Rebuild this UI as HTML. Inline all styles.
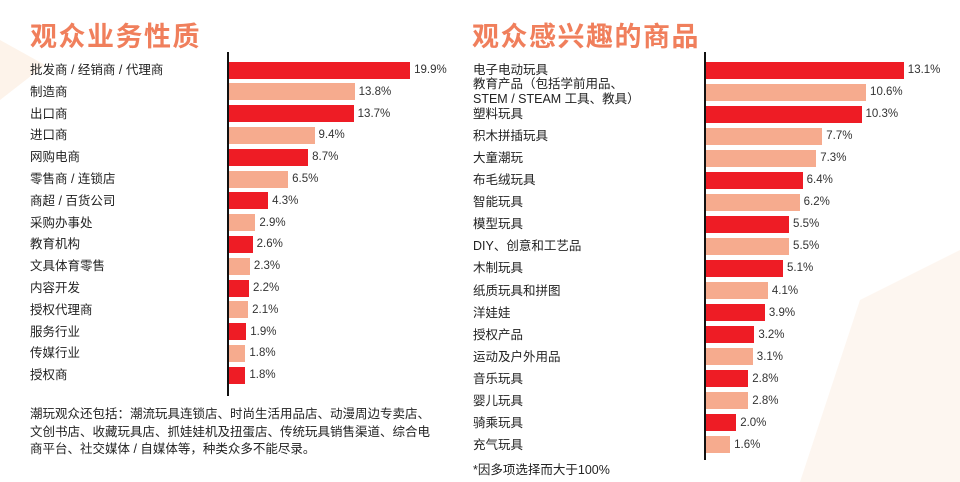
<!DOCTYPE html>
<html><head><meta charset="utf-8"><style>
body{margin:0;width:960px;height:482px;background:#fff;position:relative;overflow:hidden;font-family:"Liberation Sans","Noto Sans CJK SC",sans-serif;color:#222}
.t{position:absolute;font-size:27px;font-weight:bold;color:#f07f5c;top:15px;letter-spacing:1.5px}
.l{position:absolute;font-size:12.5px;white-space:nowrap;line-height:14px}
.b{position:absolute;height:17px}
.r{background:#ee1c25}.p{background:#f6ab8e}
.v{position:absolute;font-size:11.5px;color:#333;line-height:14px}
.ax{position:absolute;width:2px;background:#111}
</style></head><body>
<svg style="position:absolute;left:0;top:0" width="960" height="482">
<polygon points="0,40 45,65 0,100" fill="#fdf3ea"/>
<polygon points="860,300 960,250 960,482 800,482" fill="#fdf6f0"/>
</svg>
<div class="t" style="left:30px">观众业务性质</div>
<div class="t" style="left:472px">观众感兴趣的商品</div>
<div class="ax" style="left:227px;top:52px;height:344px"></div>
<div class="ax" style="left:704px;top:52px;height:408px"></div>
<div id="L"></div><div id="R"></div>
<div class="l" style="left:30px;top:406px;line-height:17.5px">潮玩观众还包括：潮流玩具连锁店、时尚生活用品店、动漫周边专卖店、<br>文创书店、收藏玩具店、抓娃娃机及扭蛋店、传统玩具销售渠道、综合电<br>商平台、社交媒体 / 自媒体等，种类众多不能尽录。</div>
<div class="l" style="left:473px;top:463px">*因多项选择而大于100%</div>
<script>
var L=[["批发商 / 经销商 / 代理商",19.9,1],["制造商",13.8,0],["出口商",13.7,1],["进口商",9.4,0],["网购电商",8.7,1],["零售商 / 连锁店",6.5,0],["商超 / 百货公司",4.3,1],["采购办事处",2.9,0],["教育机构",2.6,1],["文具体育零售",2.3,0],["内容开发",2.2,1],["授权代理商",2.1,0],["服务行业",1.9,1],["传媒行业",1.8,0],["授权商",1.8,1]];
var R=[["电子电动玩具",13.1,1],["教育产品（包括学前用品、<br>STEM / STEAM 工具、教具）",10.6,0],["塑料玩具",10.3,1],["积木拼插玩具",7.7,0],["大童潮玩",7.3,0],["布毛绒玩具",6.4,1],["智能玩具",6.2,0],["模型玩具",5.5,1],["DIY、创意和工艺品",5.5,0],["木制玩具",5.1,1],["纸质玩具和拼图",4.1,0],["洋娃娃",3.9,1],["授权产品",3.2,1],["运动及户外用品",3.1,0],["音乐玩具",2.8,1],["婴儿玩具",2.8,0],["骑乘玩具",2.0,1],["充气玩具",1.6,0]];
function draw(d,lx,ax,y0,dy,sc){var h="";d.forEach(function(e,i){var c=y0+i*dy,w=e[1]*sc;
var two=e[0].indexOf("<br>")>0;var ly=two?c-15:c-7;
h+='<div class="l" style="left:'+lx+'px;top:'+ly+'px'+(two?';line-height:14.5px':'')+'">'+e[0]+'</div>';
h+='<div class="b '+(e[2]?'r':'p')+'" style="left:'+ax+'px;top:'+(c-8.5)+'px;width:'+w+'px"></div>';
h+='<div class="v" style="left:'+(ax+w+4)+'px;top:'+(c-7)+'px">'+e[1].toFixed(1)+'%</div>';});return h;}
document.getElementById("L").innerHTML=draw(L,30,229,70,21.8,9.1);
document.getElementById("R").innerHTML=draw(R,473,706,70,22.05,15.1);
</script>
</body></html>
